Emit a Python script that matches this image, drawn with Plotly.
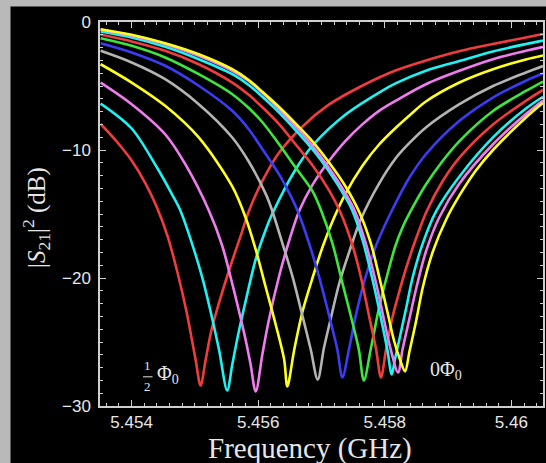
import plotly.graph_objects as go

# |S21|^2 transmission traces, flux bias stepped from Phi0/2 (leftmost dip) to 0 (rightmost dip)
f_1 = [5.45351, 5.45375, 5.45400, 5.45422, 5.45440, 5.45457, 5.45474, 5.45487, 5.45501, 5.45509,
       5.45517, 5.45526, 5.45542, 5.45558, 5.45574, 5.45585, 5.45607, 5.45632, 5.45670, 5.45711,
       5.45765, 5.45817, 5.45865, 5.45919, 5.45971, 5.46023, 5.46050]
s_1 = [-7.97, -9.26, -10.82, -12.62, -14.49, -16.76, -19.88, -22.70, -26.37, -28.40,
       -26.37, -24.10, -21.29, -18.79, -16.45, -14.80, -12.38, -10.27, -8.16, -6.48,
       -4.96, -3.79, -3.01, -2.27, -1.72, -1.21, -0.94]

f_2 = [5.45351, 5.45400, 5.45440, 5.45464, 5.45477, 5.45495, 5.45511, 5.45524, 5.45538, 5.45551,
       5.45559, 5.45569, 5.45580, 5.45596, 5.45612, 5.45621, 5.45659, 5.45686, 5.45738, 5.45791,
       5.45817, 5.45865, 5.45918, 5.45971, 5.46023, 5.46050]
s_2 = [-6.37, -8.32, -11.37, -13.48, -14.73, -17.25, -19.86, -22.46, -25.59, -28.79,
       -26.76, -24.26, -21.84, -18.55, -16.21, -15.12, -11.52, -9.65, -7.23, -5.51,
       -4.80, -3.81, -3.05, -2.30, -1.72, -1.45]

f_3 = [5.45351, 5.45400, 5.45453, 5.45485, 5.45522, 5.45543, 5.45556, 5.45569, 5.45580, 5.45588,
       5.45596, 5.45607, 5.45617, 5.45633, 5.45649, 5.45665, 5.45686, 5.45712, 5.45738, 5.45765,
       5.45791, 5.45817, 5.45865, 5.45918, 5.45971, 5.46023, 5.46050]
s_3 = [-4.73, -6.42, -8.77, -11.13, -14.73, -17.46, -19.86, -22.46, -24.80, -26.76,
       -28.87, -25.84, -23.24, -19.86, -17.07, -14.73, -12.70, -10.84, -9.28, -7.98,
       -6.94, -6.16, -4.86, -3.81, -2.91, -2.25, -1.94]

f_4 = [5.45351, 5.45400, 5.45453, 5.45506, 5.45559, 5.45580, 5.45596, 5.45612, 5.45628, 5.45641,
       5.45646, 5.45657, 5.45670, 5.45686, 5.45702, 5.45720, 5.45738, 5.45765, 5.45791, 5.45817,
       5.45839, 5.45865, 5.45918, 5.45971, 5.46023, 5.46050]
s_4 = [-3.30, -4.73, -6.55, -9.02, -12.85, -15.27, -17.77, -20.74, -23.71, -26.37,
       -28.48, -25.59, -22.62, -19.96, -17.54, -15.27, -13.40, -11.21, -9.57, -8.28,
       -7.30, -6.21, -4.73, -3.69, -2.93, -2.62]

f_5 = [5.45351, 5.45400, 5.45453, 5.45506, 5.45559, 5.45585, 5.45612, 5.45622, 5.45638, 5.45654,
       5.45670, 5.45683, 5.45694, 5.45704, 5.45715, 5.45728, 5.45744, 5.45762, 5.45791, 5.45817,
       5.45839, 5.45865, 5.45918, 5.45971, 5.46023, 5.46050]
s_5 = [-2.25, -3.16, -4.47, -6.42, -9.02, -10.90, -13.45, -14.73, -17.25, -19.86,
       -22.98, -25.59, -27.93, -25.43, -23.09, -20.43, -17.93, -15.43, -12.62, -10.66,
       -9.45, -8.24, -6.42, -5.00, -3.95, -3.44]

f_6 = [5.45351, 5.45400, 5.45453, 5.45506, 5.45559, 5.45585, 5.45607, 5.45633, 5.45651, 5.45662,
       5.45680, 5.45696, 5.45712, 5.45725, 5.45733, 5.45744, 5.45754, 5.45770, 5.45788, 5.45812,
       5.45839, 5.45865, 5.45918, 5.45971, 5.46023, 5.46050]
s_6 = [-1.66, -2.38, -3.42, -4.98, -6.94, -8.38, -9.96, -11.91, -13.55, -14.73,
       -17.23, -19.88, -22.93, -25.59, -27.77, -25.43, -22.98, -19.86, -17.25, -14.65,
       -12.15, -10.33, -7.72, -5.90, -4.59, -4.02]

f_7 = [5.45351, 5.45400, 5.45453, 5.45506, 5.45559, 5.45585, 5.45607, 5.45633, 5.45659, 5.45686,
       5.45700, 5.45717, 5.45733, 5.45749, 5.45759, 5.45767, 5.45778, 5.45791, 5.45802, 5.45817,
       5.45828, 5.45844, 5.45865, 5.45892, 5.45918, 5.45971, 5.46023, 5.46050]
s_7 = [-1.27, -1.86, -2.77, -4.08, -5.64, -6.72, -7.85, -9.55, -11.37, -13.24,
       -14.80, -17.25, -20.38, -23.50, -25.59, -28.01, -25.51, -22.30, -20.12, -17.46,
       -16.05, -14.49, -12.70, -10.82, -9.30, -6.95, -5.39, -4.65]

f_8 = [5.45351, 5.45400, 5.45453, 5.45506, 5.45559, 5.45585, 5.45607, 5.45633, 5.45659, 5.45686,
       5.45712, 5.45730, 5.45749, 5.45762, 5.45775, 5.45786, 5.45794, 5.45802, 5.45812, 5.45823,
       5.45834, 5.45850, 5.45866, 5.45892, 5.45918, 5.45971, 5.46023, 5.46050]
s_8 = [-0.98, -1.52, -2.25, -3.30, -4.73, -5.69, -6.68, -7.98, -9.55, -11.21,
       -13.16, -14.88, -17.46, -19.88, -22.93, -25.51, -27.77, -25.59, -23.09, -21.05,
       -19.18, -16.84, -14.80, -12.38, -10.59, -8.01, -6.16, -5.31]

f_9 = [5.45351, 5.45400, 5.45453, 5.45506, 5.45559, 5.45585, 5.45607, 5.45633, 5.45659, 5.45686,
       5.45712, 5.45738, 5.45748, 5.45765, 5.45781, 5.45794, 5.45804, 5.45811, 5.45816, 5.45823,
       5.45834, 5.45844, 5.45860, 5.45881, 5.45918, 5.45971, 5.46023, 5.46050]
s_9 = [-0.74, -1.21, -1.94, -2.91, -4.08, -4.92, -5.86, -7.07, -8.44, -9.96,
       -11.68, -13.71, -14.65, -17.07, -20.20, -23.16, -25.59, -27.54, -26.37, -24.80,
       -22.30, -19.96, -17.30, -14.80, -12.07, -9.02, -6.76, -5.84]

f_10 = [5.45351, 5.45400, 5.45453, 5.45506, 5.45559, 5.45585, 5.45607, 5.45633, 5.45659, 5.45686,
        5.45712, 5.45738, 5.45753, 5.45770, 5.45786, 5.45799, 5.45809, 5.45821, 5.45828, 5.45839,
        5.45850, 5.45865, 5.45886, 5.45918, 5.45971, 5.46023, 5.46050]
s_10 = [-0.59, -1.08, -1.73, -2.64, -3.81, -4.61, -5.55, -6.80, -8.16, -9.69,
        -11.41, -13.40, -14.80, -17.30, -20.35, -23.32, -25.51, -27.38, -25.59, -23.16,
        -20.74, -17.93, -15.27, -12.62, -9.55, -7.19, -6.13]

f_11 = [5.45351, 5.45400, 5.45453, 5.45506, 5.45559, 5.45585, 5.45607, 5.45633, 5.45659, 5.45686,
        5.45712, 5.45738, 5.45760, 5.45778, 5.45791, 5.45804, 5.45815, 5.45824, 5.45832, 5.45839,
        5.45850, 5.45860, 5.45876, 5.45897, 5.45918, 5.45944, 5.45971, 5.46023, 5.46050]
s_11 = [-0.56, -1.00, -1.66, -2.52, -3.69, -4.53, -5.47, -6.64, -7.93, -9.34,
        -10.98, -12.85, -14.88, -17.30, -19.86, -22.62, -24.96, -26.37, -27.30, -25.74,
        -23.24, -20.74, -17.93, -15.43, -13.55, -11.60, -10.00, -7.46, -6.31]

freqs = [f_1, f_2, f_3, f_4, f_5, f_6, f_7, f_8, f_9, f_10, f_11]
s21 = [s_1, s_2, s_3, s_4, s_5, s_6, s_7, s_8, s_9, s_10, s_11]
trace_colors = ["#f03c3c", "#1ef2f2", "#f07cf0", "#ffff1e", "#b4b4b4", "#3c3cf5",
                "#3ce63c", "#f03c3c", "#1ef2f2", "#f07cf0", "#ffff1e"]

x_ticks = [5.454, 5.456, 5.458, 5.46]
x_ticklabels = ["5.454", "5.456", "5.458", "5.46"]
y_ticks = [0, -10, -20, -30]
y_ticklabels = ["0", "\u221210", "\u221220", "\u221230"]

frame = "#cfcfcf"
txt = "#e6e6e6"
serif = "Liberation Serif, Times New Roman, serif"

fig = go.Figure()
for fx, sy, col in zip(freqs, s21, trace_colors):
    fig.add_trace(go.Scatter(
        x=fx, y=sy, mode="lines",
        line=dict(color=col, width=2.6, shape="spline", smoothing=0.9),
        hoverinfo="skip",
    ))

axis_common = dict(
    showline=True, linecolor=frame, linewidth=1.5, mirror="allticks",
    ticks="inside", ticklen=6, tickwidth=1.2, tickcolor=frame,
    showgrid=False, zeroline=False,
    tickfont=dict(family="Liberation Sans, Arial, sans-serif", size=17, color=txt),
)

fig.update_xaxes(
    range=[5.4535, 5.4605], tickvals=x_ticks, ticktext=x_ticklabels,
    ticklabelstandoff=0,
    minor=dict(ticks="inside", ticklen=3, tickcolor=frame, tick0=5.454, dtick=0.0002, showgrid=False),
    **axis_common,
)
fig.update_yaxes(
    range=[-30, 0], tickvals=y_ticks, ticktext=y_ticklabels,
    ticklabelstandoff=4,
    minor=dict(ticks="inside", ticklen=3, tickcolor=frame, tick0=0, dtick=1, showgrid=False),
    **axis_common,
)

W, H = 546, 463
ML, MR, MT, MB = 100, 3, 22, 57
PW, PH = W - ML - MR, H - MT - MB


def px_to_paper(px, py):
    return (px - ML) / PW, (H - MB - py) / PH


# light-grey margin strips on the top and left of the black canvas
lx0, ly0 = px_to_paper(0, H)
lx1, ly1 = px_to_paper(10.5, 0)
tx1, ty0 = px_to_paper(W, 6.5)
shapes = [
    dict(type="rect", xref="paper", yref="paper", x0=lx0, x1=lx1, y0=ly0, y1=ly1,
         fillcolor="#b9b9b9", line=dict(width=0), layer="below"),
    dict(type="rect", xref="paper", yref="paper", x0=lx0, x1=tx1, y0=ty0, y1=ly1,
         fillcolor="#b9b9b9", line=dict(width=0), layer="below"),
    # fraction bar of the 1/2 label
    dict(type="line", xref="x", yref="y", x0=5.45418, x1=5.45433, y0=-27.72, y1=-27.72,
         line=dict(color=txt, width=1)),
]

ax_x, ax_y = px_to_paper(310, 448)
ay_x, ay_y = px_to_paper(36.5, 217.5)
annotations = [
    dict(xref="paper", yref="paper", x=ax_x, y=ax_y, text="Frequency (GHz)", showarrow=False,
         font=dict(family=serif, size=29, color=txt), xanchor="center", yanchor="middle"),
    dict(xref="paper", yref="paper", x=ay_x, y=ay_y, textangle=-90,
         text="|<i>S</i><sub>21</sub>|<sup>2</sup> (dB)", showarrow=False,
         font=dict(family=serif, size=25, color=txt), xanchor="center", yanchor="middle"),
    dict(x=5.454255, y=-26.85, text="1", showarrow=False,
         font=dict(family=serif, size=13, color=txt), xanchor="center", yanchor="middle"),
    dict(x=5.454255, y=-28.5, text="2", showarrow=False,
         font=dict(family=serif, size=13, color=txt), xanchor="center", yanchor="middle"),
    dict(x=5.45437, y=-27.55, text="\u03a6<sub>0</sub>", showarrow=False,
         font=dict(family=serif, size=20, color=txt), xanchor="left", yanchor="middle"),
    dict(x=5.45869, y=-27.25, text="0\u03a6<sub>0</sub>", showarrow=False,
         font=dict(family=serif, size=20, color=txt), xanchor="left", yanchor="middle"),
]

fig.update_layout(
    width=W, height=H, margin=dict(l=ML, r=MR, t=MT, b=MB, autoexpand=False),
    paper_bgcolor="#000000", plot_bgcolor="#000000", showlegend=False,
    shapes=shapes, annotations=annotations,
)

fig.write_html("out.html")
